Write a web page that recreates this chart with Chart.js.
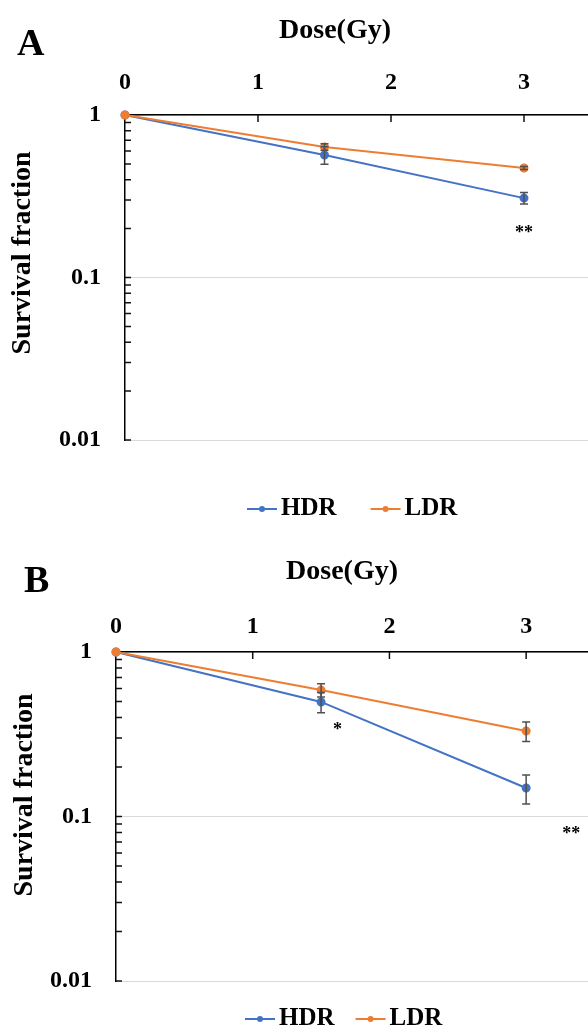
<!DOCTYPE html>
<html>
<head>
<meta charset="utf-8">
<script src="https://cdn.jsdelivr.net/npm/chart.js@4.4.1/dist/chart.umd.min.js"></script>
<style>
  html, body { margin: 0; padding: 0; background: #fff; overflow: hidden; width: 588px; height: 1035px; }
  .panel { position: absolute; left: 0; }
</style>
</head>
<body>
<div class="panel" style="top:0"><canvas id="chartA" width="600" height="520"></canvas></div>
<div class="panel" style="top:520px"><canvas id="chartB" width="600" height="515"></canvas></div>
<script>
// data
const doses = [0, 1.5, 3];
const xTicks = [0, 1, 2, 3];
const yTicks = [1, 0.1, 0.01];
const seriesNames = ['HDR', 'LDR'];

const hdrA = [1, 0.567, 0.308];
const hdrAErr = [0, 0.07, 0.025];
const ldrA = [1, 0.636, 0.472];
const ldrAErr = [0, 0.03, 0.01];

const hdrB = [1, 0.497, 0.149];
const hdrBErr = [0, 0.07, 0.03];
const ldrB = [1, 0.587, 0.331];
const ldrBErr = [0, 0.055, 0.045];

const sigA = [{ x: 3, y: 0.2, text: '**' }];
const sigB = [{ x: 1.62, y: 0.355, text: '*' }, { x: 3.33, y: 0.083, text: '**' }];

const BLUE = '#4472C4';
const ORANGE = '#ED7D31';
const SERIF = '"Liberation Serif", "Times New Roman", serif';

// minor ticks of the log axis: 1..9 in each decade
const yMinor = [];
[0.01, 0.1].forEach(d => {
    for (let k = 1; k < 10; k++) yMinor.push(+(d * k).toFixed(3));
});
yMinor.push(1);

// titles, error bars, inward ticks, asterisks, legend
const decoPlugin = {
    id: 'deco',
    afterDatasetsDraw(chart, args, cfg) {
        const ctx = chart.ctx;
        const x = chart.scales.x, y = chart.scales.y;
        const area = chart.chartArea;
        ctx.save();

        // error bars
        ctx.strokeStyle = '#505050';
        ctx.lineWidth = 1.5;
        chart.data.datasets.forEach((ds, di) => {
            const errs = cfg.err[di];
            ds.data.forEach((p, i) => {
                const e = errs[i];
                if (!e) return;
                const px = x.getPixelForValue(p.x);
                const t = y.getPixelForValue(p.y + e);
                const b = y.getPixelForValue(p.y - e);
                ctx.beginPath();
                ctx.moveTo(px, t); ctx.lineTo(px, b);
                ctx.moveTo(px - 4, t); ctx.lineTo(px + 4, t);
                ctx.moveTo(px - 4, b); ctx.lineTo(px + 4, b);
                ctx.stroke();
            });
        });

        // inward tick marks
        ctx.strokeStyle = '#111';
        ctx.lineWidth = 1.5;
        ctx.beginPath();
        yMinor.forEach(v => {
            if (v === 1) return;
            const py = y.getPixelForValue(v);
            ctx.moveTo(area.left, py); ctx.lineTo(area.left + 6, py);
        });
        xTicks.forEach(v => {
            if (v === 0) return;
            const px = x.getPixelForValue(v);
            ctx.moveTo(px, area.top); ctx.lineTo(px, area.top + 7);
        });
        ctx.stroke();

        // significance marks
        ctx.fillStyle = '#000';
        ctx.font = 'bold 18px ' + SERIF;
        ctx.textAlign = 'center';
        ctx.textBaseline = 'alphabetic';
        cfg.sig.forEach(s => {
            ctx.fillText(s.text, x.getPixelForValue(s.x), y.getPixelForValue(s.y) + 9);
        });

        // panel letter
        ctx.textBaseline = 'middle';
        ctx.textAlign = 'left';
        ctx.font = 'bold 38px ' + SERIF;
        ctx.fillText(cfg.letter, cfg.letterX, cfg.letterY);

        // axis titles
        ctx.textAlign = 'center';
        ctx.font = 'bold 28px ' + SERIF;
        ctx.fillText('Dose(Gy)', cfg.titleX, cfg.titleY);
        ctx.save();
        ctx.translate(cfg.yTitleX, cfg.yTitleY);
        ctx.rotate(-Math.PI / 2);
        ctx.fillText('Survival fraction', 0, 0);
        ctx.restore();

        // legend
        ctx.font = 'bold 25px ' + SERIF;
        ctx.textAlign = 'left';
        let lx = cfg.legendX;
        const ly = cfg.legendY;
        chart.data.datasets.forEach(ds => {
            ctx.strokeStyle = ds.borderColor;
            ctx.fillStyle = ds.borderColor;
            ctx.lineWidth = 2;
            ctx.beginPath();
            ctx.moveTo(lx, ly); ctx.lineTo(lx + 30, ly);
            ctx.stroke();
            ctx.beginPath();
            ctx.arc(lx + 15, ly, 3, 0, Math.PI * 2);
            ctx.fill();
            ctx.fillStyle = '#000';
            ctx.fillText(ds.label, lx + 34, ly);
            lx += 34 + ctx.measureText(ds.label).width + cfg.legendGap;
        });

        ctx.restore();
    }
};

function makeChart(id, hdr, hdrErr, ldr, ldrErr, L) {
    const pts = arr => doses.map((d, i) => ({ x: d, y: arr[i] }));
    return new Chart(document.getElementById(id), {
        type: 'line',
        data: {
            datasets: [{
                label: seriesNames[0],
                data: pts(hdr),
                borderColor: BLUE,
                backgroundColor: BLUE,
                borderWidth: 2,
                pointRadius: 3.5,
                pointHoverRadius: 3.5,
                clip: false,
                order: 1
            }, {
                label: seriesNames[1],
                data: pts(ldr),
                borderColor: ORANGE,
                backgroundColor: ORANGE,
                borderWidth: 2,
                pointRadius: 3.5,
                pointHoverRadius: 3.5,
                clip: false,
                order: 0
            }]
        },
        options: {
            responsive: false,
            animation: false,
            layout: { padding: { left: 0, top: 0, right: L.padRight, bottom: L.padBottom } },
            scales: {
                x: {
                    type: 'linear',
                    position: 'top',
                    min: 0,
                    max: 3.5,
                    afterBuildTicks: s => { s.ticks = xTicks.map(v => ({ value: v })); },
                    afterFit: s => { s.height = L.top; },
                    grid: { display: false, drawTicks: false },
                    border: { color: '#000', width: 1.5 },
                    ticks: {
                        padding: L.xPad,
                        color: '#000',
                        font: { family: SERIF, size: 24, weight: 'bold' }
                    }
                },
                y: {
                    type: 'logarithmic',
                    min: 0.01,
                    max: 1,
                    afterBuildTicks: s => { s.ticks = yMinor.map(v => ({ value: v, major: yTicks.includes(v) })); },
                    afterFit: s => { s.width = L.left; },
                    grid: {
                        drawTicks: false,
                        lineWidth: 1,
                        color: c => (c.tick && yTicks.includes(c.tick.value)) ? '#d9d9d9' : 'rgba(0,0,0,0)'
                    },
                    border: { color: '#000', width: 1.5 },
                    ticks: {
                        autoSkip: false,
                        padding: 24,
                        color: '#000',
                        font: { family: SERIF, size: 24, weight: 'bold' },
                        callback: v => yTicks.includes(v) ? String(v) : ''
                    }
                }
            },
            plugins: {
                legend: { display: false },
                tooltip: { enabled: false },
                deco: {
                    err: [hdrErr, ldrErr],
                    sig: L.sig,
                    letter: L.letter, letterX: L.letterX, letterY: L.letterY,
                    titleX: L.titleX, titleY: L.titleY,
                    yTitleX: L.yTitleX, yTitleY: L.yTitleY,
                    legendX: L.legendX, legendY: L.legendY, legendGap: L.legendGap
                }
            }
        },
        plugins: [decoPlugin]
    });
}

makeChart('chartA', hdrA, hdrAErr, ldrA, ldrAErr, {
    left: 125, top: 115, padRight: 9.5, padBottom: 80, xPad: 18, sig: sigA,
    letter: 'A', letterX: 17, letterY: 45,
    titleX: 335, titleY: 31, yTitleX: 23, yTitleY: 253,
    legendX: 247, legendY: 509, legendGap: 34
});

makeChart('chartB', hdrB, hdrBErr, ldrB, ldrBErr, {
    left: 116, top: 132, padRight: 1, padBottom: 54, xPad: 11, sig: sigB,
    letter: 'B', letterX: 24, letterY: 62,
    titleX: 342, titleY: 52, yTitleX: 25, yTitleY: 275,
    legendX: 245, legendY: 499, legendGap: 21
});
</script>
</body>
</html>
